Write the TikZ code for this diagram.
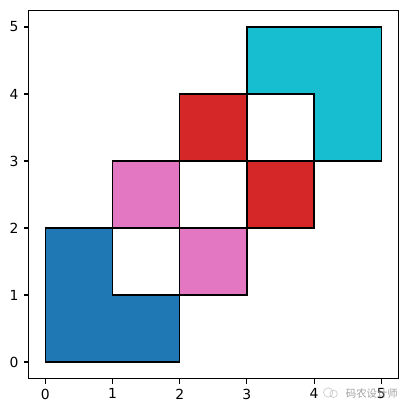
\documentclass[tikz,border=0pt]{standalone}
\usepackage{fontspec}
\setmainfont{DejaVu Sans}
\newfontfamily\cjk{Noto Sans CJK SC}
\definecolor{tabblue}{HTML}{1F77B4}
\definecolor{tabpink}{HTML}{E377C2}
\definecolor{tabred}{HTML}{D62728}
\definecolor{tabcyan}{HTML}{17BECF}
\begin{document}
\begin{tikzpicture}[x=67.2pt, y=67pt, line join=miter,
    cell/.style={draw=black, line width=1.4pt},
    spine/.style={line width=1.1pt},
    tick/.style={line width=1.1pt},
    ticklab/.style={font=\fontsize{13.9}{16}\selectfont, inner sep=0pt}]
  \useasboundingbox (-0.674,-0.761) rectangle (5.397,5.403);
  % lower corner
  \filldraw[cell, fill=tabblue] (0,0) -- (2,0) -- (2,1) -- (1,1) -- (1,2) -- (0,2) -- cycle;
  \filldraw[cell, fill=white] (1,1) rectangle (2,2);
  % pink pair
  \filldraw[cell, fill=tabpink] (1,2) rectangle (2,3);
  \filldraw[cell, fill=tabpink] (2,1) rectangle (3,2);
  \filldraw[cell, fill=white] (2,2) rectangle (3,3);
  % red pair
  \filldraw[cell, fill=tabred] (2,3) rectangle (3,4);
  \filldraw[cell, fill=tabred] (3,2) rectangle (4,3);
  \filldraw[cell, fill=white] (3,3) rectangle (4,4);
  % upper corner
  \filldraw[cell, fill=tabcyan] (3,4) -- (3,5) -- (5,5) -- (5,3) -- (4,3) -- (4,4) -- cycle;
  % axes
  \draw[spine] (-0.25,-0.25) rectangle (5.25,5.25);
  \foreach \i in {0,...,5} {
    \draw[tick] (\i,-0.25) -- ++(0,-4.9pt) coordinate (xc\i);
    \node[ticklab, anchor=north, yshift=-4.9pt] (xt\i) at (xc\i) {\i};
    \draw[tick] (-0.25,\i) -- ++(-4.9pt,0) coordinate (yc\i);
    \node[ticklab, anchor=east, xshift=-4.9pt] (yt\i) at (yc\i) {\i};
  }
  % watermark
  \draw[gray!45, line width=0.6pt] (4.21,-0.455) circle (0.07);
  \draw[gray!45, line width=0.6pt] (4.29,-0.475) circle (0.055);
  \node[text=gray!75, font=\cjk\fontsize{10.4}{12}\selectfont, inner sep=0pt] (wm) at (4.86,-0.465) {码农设计师};
\end{tikzpicture}
\end{document}
